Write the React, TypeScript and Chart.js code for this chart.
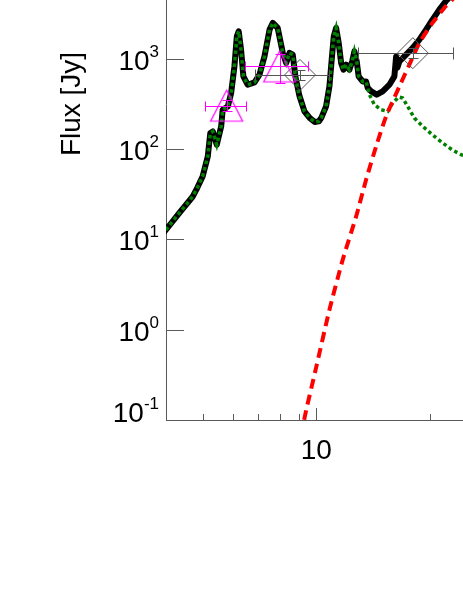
import React, { useEffect, useRef } from 'react';
import { Chart, registerables } from 'chart.js';

Chart.register(...registerables);

// ---- Data (wavelength in micron, flux in Jy) ----
// Part of the spectrum where the observed spectrum and the model coincide
const sharedWave = [3.9, 4.0, 4.34, 4.71, 4.84, 5.0, 5.16, 5.24, 5.32, 5.45, 5.6, 5.65, 5.83, 5.95, 6.07, 6.16, 6.23, 6.32, 6.41, 6.58, 6.86, 7.07, 7.29, 7.52, 7.67, 7.9, 8.15, 8.32, 8.49, 8.66, 8.8, 9.02, 9.3, 9.6, 9.9, 10.15, 10.3, 10.61, 10.83, 10.98, 11.12, 11.28, 11.46, 11.63, 11.8, 11.99, 12.23, 12.44, 12.61, 12.79, 12.94, 13.26, 13.54, 13.68];
const sharedFlux = [11.2, 12.8, 19.7, 29.9, 37.3, 49.8, 83, 151, 157, 112, 179, 273, 297, 419, 826, 1776, 2018, 1265, 640, 517, 549, 668, 1066, 2108, 2500, 2200, 1163, 901, 1163, 1113, 640, 390, 262, 222, 200, 203, 221, 297, 496, 980, 1776, 2200, 1500, 901, 759, 863, 759, 938, 1211, 938, 640, 563, 563, 476];

// Observed spectrum (black) beyond the divergence point
const spectrumTailWave = [13.97, 14.45, 14.98, 15.61, 16.09, 16.26, 16.39, 16.59, 17.28, 17.99, 18.74, 19.52, 20.3, 21.16, 22.0, 23.5, 26.0];
const spectrumTailFlux = [436, 401, 436, 517, 640, 1057, 798, 938, 1113, 1321, 1633, 2108, 2720, 3510, 4340, 5800, 8500];

// Model (green dotted) beyond the divergence point
const modelTailWave = [13.82, 14.24, 14.84, 15.45, 15.92, 16.52, 16.93, 17.45, 18.18, 19.12, 20.3, 21.59, 22.9, 24.15, 27.0, 32.0];
const modelTailFlux = [401, 311, 273, 262, 324, 378, 368, 297, 221, 179, 144, 117, 98, 87, 72, 55];

// Cold-dust component (red dashed)
const coldWave = [8.7, 9.3, 10.0, 10.83, 11.74, 12.74, 13.54, 14.39, 15.3, 16.59, 17.63, 18.74, 20.3, 22.0, 22.9, 25.0, 30.0];
const coldFlux = [0.02, 0.104, 0.39, 1.66, 5.94, 17.9, 45.8, 107, 231, 496, 863, 1500, 2500, 3820, 4530, 6600, 12600];

// Photometry: triangles (magenta)
const triWave = [5.79, 8.0];
const triFlux = [303, 826];
const triWaveLo = [5.06, 6.49];
const triWaveHi = [6.52, 9.49];
const triFluxLo = [262, 541];
const triFluxHi = [353, 1132];

// Photometry: diamonds (grey)
const diaWave = [9.05, 18.0];
const diaFlux = [663, 1156];
const diaWaveLo = [6.86, 12.92];
const diaWaveHi = [10.83, 23.05];
const diaFluxLo = [583, 1018];
const diaFluxHi = [754, 1313];

// Axes
const xMin = 4;
const xMax = 1000;
const yMin = 0.1;
const yMax = 1e6;
const yExponents = [-1, 0, 1, 2, 3, 4, 5, 6];
const xLabelValues = [10, 100, 1000];
const xMajorTicks = [10, 100];
const xMinorTicks = [5, 6, 7, 8, 9, 20, 30, 40, 50, 60, 70, 80, 90, 200, 300, 400, 500, 600, 700, 800, 900];
const yTitle = 'Flux [Jy]';

const FONT = "'Liberation Sans', Arial, Helvetica, sans-serif";
const AXIS_COLOR = '#5a5a5a';

const zip = (xs: number[], ys: number[]) => xs.map((x, i) => ({ x, y: ys[i] }));

export default function App() {
  const ref = useRef<HTMLCanvasElement | null>(null);

  useEffect(() => {
    const canvas = ref.current;
    if (!canvas) return;

    // open triangle marker
    const tri = document.createElement('canvas');
    tri.width = 35;
    tri.height = 35;
    const tc = tri.getContext('2d')!;
    tc.strokeStyle = '#ff00ff';
    tc.lineWidth = 1.2;
    tc.beginPath();
    tc.moveTo(17.5, 2);
    tc.lineTo(33.5, 33);
    tc.lineTo(1.5, 33);
    tc.closePath();
    tc.stroke();

    const tickPlugin = {
      id: 'insideTicks',
      beforeDatasetsDraw(chart: any) {
        const { ctx, scales, chartArea } = chart;
        ctx.save();
        ctx.strokeStyle = AXIS_COLOR;
        ctx.lineWidth = 1;
        const bottom = chartArea.bottom;
        const left = chartArea.left;
        const drawX = (v: number, len: number) => {
          const px = Math.round(scales.x.getPixelForValue(v)) + 0.5;
          ctx.beginPath();
          ctx.moveTo(px, bottom);
          ctx.lineTo(px, bottom - len);
          ctx.stroke();
        };
        xMinorTicks.forEach((v) => drawX(v, 6));
        xMajorTicks.forEach((v) => drawX(v, 12));
        yExponents.forEach((e) => {
          const v = Math.pow(10, e);
          if (v <= yMin || v >= yMax) return;
          const py = Math.round(scales.y.getPixelForValue(v)) + 0.5;
          ctx.beginPath();
          ctx.moveTo(left, py);
          ctx.lineTo(left + 18, py);
          ctx.stroke();
        });
        ctx.restore();
      },
    };

    const errorBarPlugin = {
      id: 'errorBars',
      afterDatasetsDraw(chart: any) {
        const { ctx, scales } = chart;
        const drawSet = (
          w: number[], f: number[], wl: number[], wh: number[], fl: number[], fh: number[],
          color: string, hCap: number, vCap: number
        ) => {
          ctx.save();
          ctx.strokeStyle = color;
          ctx.lineWidth = 1;
          w.forEach((wv, i) => {
            const cx = scales.x.getPixelForValue(wv);
            const cy = Math.round(scales.y.getPixelForValue(f[i])) + 0.5;
            const x1 = Math.round(scales.x.getPixelForValue(wl[i])) + 0.5;
            const x2 = Math.round(scales.x.getPixelForValue(wh[i])) + 0.5;
            const y1 = Math.round(scales.y.getPixelForValue(fl[i])) + 0.5;
            const y2 = Math.round(scales.y.getPixelForValue(fh[i])) + 0.5;
            const rx = Math.round(cx) + 0.5;
            ctx.beginPath();
            ctx.moveTo(x1, cy); ctx.lineTo(x2, cy);
            ctx.moveTo(x1, cy - hCap); ctx.lineTo(x1, cy + hCap);
            ctx.moveTo(x2, cy - hCap); ctx.lineTo(x2, cy + hCap);
            ctx.moveTo(rx, y1); ctx.lineTo(rx, y2);
            ctx.moveTo(rx - vCap, y1); ctx.lineTo(rx + vCap, y1);
            ctx.moveTo(rx - vCap, y2); ctx.lineTo(rx + vCap, y2);
            ctx.stroke();
          });
          ctx.restore();
        };
        drawSet(triWave, triFlux, triWaveLo, triWaveHi, triFluxLo, triFluxHi, '#ff00ff', 5, 5);
        drawSet(diaWave, diaFlux, diaWaveLo, diaWaveHi, diaFluxLo, diaFluxHi, '#555555', 6, 5);
      },
    };

    const labelPlugin = {
      id: 'axisLabels',
      afterDraw(chart: any) {
        const { ctx, scales, chartArea } = chart;
        ctx.save();
        ctx.fillStyle = '#000';
        ctx.textBaseline = 'alphabetic';
        ctx.textAlign = 'left';
        const right = chartArea.left - 7;
        yExponents.forEach((e, i) => {
          const py = scales.y.getPixelForValue(Math.pow(10, e));
          const base = i === 0 ? py + 1.7 : py + 11;
          const expStr = String(e);
          ctx.font = `17px ${FONT}`;
          const ew = ctx.measureText(expStr).width;
          ctx.font = `28px ${FONT}`;
          const mw = ctx.measureText('10').width;
          ctx.fillText('10', right - ew - mw, base);
          ctx.font = `17px ${FONT}`;
          ctx.fillText(expStr, right - ew, base - 13);
        });
        ctx.font = `28px ${FONT}`;
        ctx.textAlign = 'center';
        xLabelValues.forEach((v) => {
          const px = scales.x.getPixelForValue(v);
          ctx.fillText(String(v), px, chartArea.bottom + 39);
        });
        // y-axis title
        ctx.translate(72.7, (chartArea.top + chartArea.bottom) / 2);
        ctx.rotate(-Math.PI / 2);
        ctx.textBaseline = 'middle';
        ctx.fillText(yTitle, 0, 0);
        ctx.restore();
      },
    };

    const chart = new Chart(canvas, {
      type: 'line',
      data: {
        datasets: [
          {
            label: 'Triangles',
            data: zip(triWave, triFlux),
            showLine: false,
            pointStyle: tri as any,
            pointRadius: 17,
            order: 0,
          },
          {
            label: 'Diamonds',
            data: zip(diaWave, diaFlux),
            showLine: false,
            pointStyle: 'rectRot',
            pointRadius: 15.5,
            pointBorderColor: '#555555',
            pointBorderWidth: 1,
            pointBackgroundColor: 'rgba(0,0,0,0)',
            order: 0,
          },
          {
            label: 'Cold dust',
            data: zip(coldWave, coldFlux),
            borderColor: '#ff0000',
            borderWidth: 4,
            borderDash: [10, 6],
            pointRadius: 0,
            tension: 0.2,
            clip: 0,
            order: 1,
          },
          {
            label: 'Model',
            data: zip(sharedWave.concat(modelTailWave), sharedFlux.concat(modelTailFlux)),
            borderColor: '#008000',
            borderWidth: 3.5,
            borderDash: [3.5, 3],
            pointRadius: 0,
            tension: 0,
            order: 2,
          },
          {
            label: 'Spectrum',
            data: zip(sharedWave.concat(spectrumTailWave), sharedFlux.concat(spectrumTailFlux)),
            borderColor: '#000000',
            borderWidth: 6,
            borderJoinStyle: 'round',
            pointRadius: 0,
            tension: 0,
            order: 3,
          },
        ],
      },
      options: {
        animation: false,
        responsive: false,
        events: [],
        layout: { padding: { left: 0, top: 40, right: 20, bottom: 10 } },
        plugins: {
          legend: { display: false },
          tooltip: { enabled: false },
        },
        scales: {
          x: {
            type: 'logarithmic',
            min: xMin,
            max: xMax,
            grid: { display: true, drawOnChartArea: false, drawTicks: false },
            border: { display: true, color: AXIS_COLOR, width: 1 },
            ticks: { display: false },
            afterFit: (s: any) => { s.height = 60; },
          },
          y: {
            type: 'logarithmic',
            min: yMin,
            max: yMax,
            grid: { display: true, drawOnChartArea: false, drawTicks: false },
            border: { display: true, color: AXIS_COLOR, width: 1 },
            ticks: { display: false },
            afterFit: (s: any) => { s.width = 166; },
          },
        },
      } as any,
      plugins: [tickPlugin, errorBarPlugin, labelPlugin],
    });

    return () => chart.destroy();
  }, []);

  return (
    <div style={{ position: 'absolute', left: 0, top: 0, width: 463, height: 599, overflow: 'hidden', background: '#fff' }}>
      <canvas
        ref={ref}
        width={1092}
        height={742}
        style={{ position: 'absolute', left: 0, top: -252, width: 1092, height: 742, display: 'block' }}
      />
    </div>
  );
}
